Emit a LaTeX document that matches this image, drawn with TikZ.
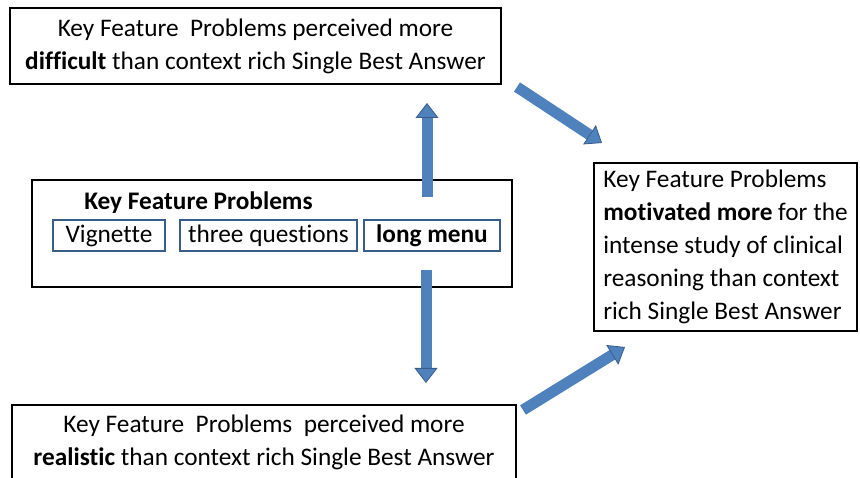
\documentclass[tikz,border=0pt]{standalone}
\usepackage{fontspec}
\setmainfont[Ligatures=NoCommon]{Carlito}
\usepackage{xcolor}
\usetikzlibrary{arrows.meta,positioning}
\definecolor{arrowfill}{HTML}{4F81BD}
\definecolor{arrowline}{HTML}{385D8A}

\begin{document}
\begin{tikzpicture}[x=1pt, y=1pt,
  box/.style={draw, line width=2.5pt, inner sep=0pt, align=center, font=\fontsize{25.3}{33}\selectfont},
  part/.style={draw=arrowline, line width=1.5pt, inner sep=0pt, minimum height=31pt, font=\fontsize{25.3}{28}\selectfont},
  flow/.style={arrowfill, line width=11pt, -{Triangle[length=15pt, width=23pt, line width=0.8pt, color=arrowline, fill=arrowfill]}}]
  \useasboundingbox (0,0) rectangle (860,477);
  % boxes
  \node[box, minimum width=491pt, minimum height=76pt] (difficult) at (255.5,431) {Key Feature\ \ Problems perceived more\\\textbf{difficult} than context rich Single Best Answer};
  \node[box, minimum width=480pt, minimum height=107pt] (kfp) at (272,243.5) {};
  \node[font=\fontsize{25.3}{28}\selectfont\bfseries] (kfphead) at (198.5,274) {Key Feature Problems};
  \node[part, minimum width=112pt] (vignette) at (109,241.5) {Vignette};
  \node[part, minimum width=177pt] (questions) at (268.5,241.5) {three questions};
  \node[part, minimum width=136pt, font=\fontsize{25.3}{28}\selectfont\bfseries] (menu) at (432,241.5) {long menu};
  \node[box, align=left, minimum width=263pt, minimum height=168pt] (motivated) at (725.5,230) {Key Feature Problems\\\textbf{motivated more} for the\\intense study of clinical\\reasoning than context\\rich Single Best Answer};
  \node[box, minimum width=504pt, minimum height=75pt] (realistic) at (264,34.5) {Key Feature\ \ Problems\ \ perceived more\\\textbf{realistic} than context rich Single Best Answer};
  % arrow ends
  \coordinate (upstart) at (427,280);
  \coordinate (upend) at (427,374);
  \coordinate (downstart) at (426,207);
  \coordinate (downend) at (426,94);
  \coordinate (rightstart) at (517,390);
  \coordinate (rightend) at (602,334);
  \coordinate (lowstart) at (523,67);
  \coordinate (lowend) at (625,130);
  \draw[flow] (upstart) -- (upend);
  \draw[flow] (downstart) -- (downend);
  \draw[flow] (rightstart) -- (rightend);
  \draw[flow] (lowstart) -- (lowend);
\end{tikzpicture}
\end{document}
